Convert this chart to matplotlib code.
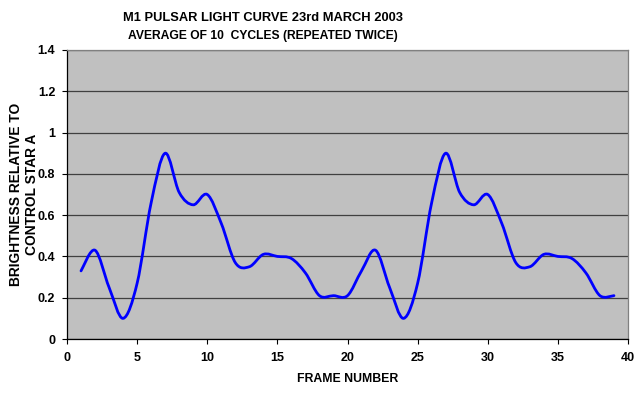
import numpy as np
import matplotlib.pyplot as plt
from matplotlib.path import Path
from matplotlib.patches import PathPatch

plt.rcParams['font.family'] = ['Liberation Sans', 'DejaVu Sans']
plt.rcParams['font.weight'] = 'bold'

# one cycle of the averaged light curve, frames 1..20
cycle = [0.33, 0.43, 0.25, 0.10, 0.27, 0.66, 0.90, 0.71, 0.65, 0.70,
         0.56, 0.37, 0.35, 0.41, 0.40, 0.39, 0.32, 0.21, 0.21, 0.21]
# repeated twice (last frame of second cycle not shown)
frames = np.arange(1, 40)
brightness = np.array(cycle + cycle[:19])

x_ticks = [0, 5, 10, 15, 20, 25, 30, 35, 40]
y_ticks = [0, 0.2, 0.4, 0.6, 0.8, 1.0, 1.2, 1.4]
y_tick_labels = ['0', '0.2', '0.4', '0.6', '0.8', '1', '1.2', '1.4']


def smooth_path(x, y, t=1 / 6):
    # Excel-style smoothed line: cubic bezier segments with Catmull-Rom tangents
    verts = [(x[0], y[0])]
    codes = [Path.MOVETO]
    n = len(x)
    for i in range(n - 1):
        x0, y0 = (x[i - 1], y[i - 1]) if i > 0 else (x[i], y[i])
        x3, y3 = (x[i + 2], y[i + 2]) if i + 2 < n else (x[i + 1], y[i + 1])
        c1 = (x[i] + (x[i + 1] - x0) * t, y[i] + (y[i + 1] - y0) * t)
        c2 = (x[i + 1] - (x3 - x[i]) * t, y[i + 1] - (y3 - y[i]) * t)
        verts += [c1, c2, (x[i + 1], y[i + 1])]
        codes += [Path.CURVE4] * 3
    return Path(verts, codes)


fig = plt.figure(figsize=(6.4, 3.93), dpi=100)
ax = fig.add_axes([67 / 640, 1 - 339 / 393, 561 / 640, 289 / 393])
ax.set_facecolor('#C0C0C0')

ax.add_patch(PathPatch(smooth_path(frames, brightness), fill=False,
                       edgecolor='#0000FF', lw=2.0, capstyle='round',
                       joinstyle='round', zorder=3))

ax.set_xlim(0, 40)
ax.set_ylim(0, 1.4)
ax.set_xticks(x_ticks)
ax.set_yticks(y_ticks)
ax.set_yticklabels(y_tick_labels)
ax.grid(axis='y', color='#404040', lw=0.9)
ax.set_axisbelow(True)
for s in ax.spines.values():
    s.set_color('#808080')
    s.set_linewidth(0.9)
ax.spines['left'].set_color('#000000')
ax.spines['bottom'].set_color('#000000')
ax.tick_params(axis='both', direction='out', length=3.5, width=0.8,
               labelsize=9)
ax.tick_params(axis='x', pad=6)
ax.tick_params(axis='y', pad=5)

ax.set_xlabel('FRAME NUMBER', fontsize=8.8, fontweight='bold', labelpad=6)
fig.text(24 / 640, 1 - 194 / 393, 'BRIGHTNESS RELATIVE TO\nCONTROL STAR A',
         rotation=90, ha='center', va='center', fontsize=9.9,
         fontweight='bold', linespacing=1.15)

fig.text(263 / 640, 1 - 18 / 393, 'M1 PULSAR LIGHT CURVE 23rd MARCH 2003',
         ha='center', va='center', fontsize=9.3, fontweight='bold')
fig.text(263 / 640, 1 - 36 / 393, 'AVERAGE OF 10  CYCLES (REPEATED TWICE)',
         ha='center', va='center', fontsize=8.7, fontweight='bold')

fig.savefig('out.png', dpi=100)
